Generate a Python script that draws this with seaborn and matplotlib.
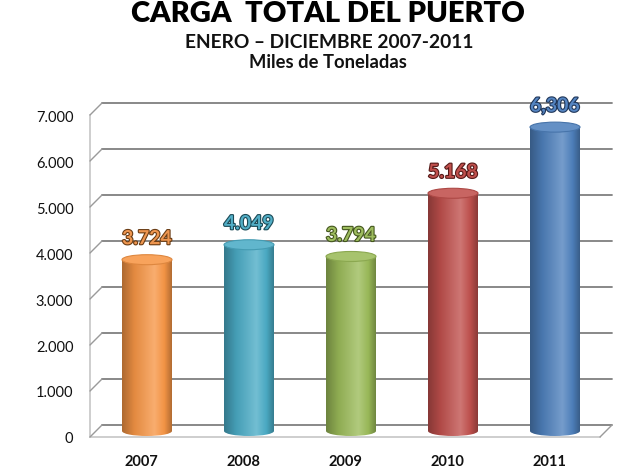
import numpy as np
import matplotlib
matplotlib.use("Agg")
import matplotlib.pyplot as plt
import seaborn as sns
from matplotlib.patches import Ellipse
from matplotlib.lines import Line2D
import matplotlib.patheffects as pe
from matplotlib.colors import LinearSegmentedColormap, to_rgb

# ---- data ----
years = ["2007", "2008", "2009", "2010", "2011"]
values = [3724, 4049, 3794, 5168, 6606]          # bar heights as drawn
value_labels = ["3.724", "4.049", "3.794", "5.168", "6,306"]  # data label texts as printed
yticks = [0, 1000, 2000, 3000, 4000, 5000, 6000, 7000]
ytick_labels = ["0", "1.000", "2.000", "3.000", "4.000", "5.000", "6.000", "7.000"]
title = "CARGA  TOTAL DEL PUERTO"
subtitle = "ENERO \u2013 DICIEMBRE 2007-2011"
units = "Miles de Toneladas"

bar_colors = ["#F79646", "#4BACC6", "#9BBB59", "#C0504D", "#4F81BD"]
label_fill = ["#EE9650", "#52AEC6", "#9DBC5E", "#C0504D", "#5585C2"]
label_edge = ["#6A3C14", "#1C4A56", "#44561E", "#561A18", "#203658"]

sns.set_theme(style="white")
plt.rcParams['font.family'] = ['Lato', 'DejaVu Sans']

W, H = 636, 477
fig = plt.figure(figsize=(W / 100, H / 100), dpi=100)
fig.patch.set_facecolor("white")

YMAX = 7000
pxu = 322 / YMAX  # pixels per data unit

# back wall (gridlines), front frame (axes / labels), mid plane (bars)
back_ax = fig.add_axes([102 / W, (H - 426) / H, 510 / W, 322 / H])
front_ax = fig.add_axes([90 / W, (H - 438) / H, 510 / W, 322 / H])
below = 300
mid_ax = fig.add_axes([96 / W, (H - (432 + below * pxu)) / H, 510 / W, (YMAX + below) * pxu / H])

for a in (back_ax, front_ax, mid_ax):
    a.set_facecolor("none")
    a.set_xlim(-0.5, len(years) - 0.5)
    for s in a.spines.values():
        s.set_visible(False)
back_ax.set_ylim(0, YMAX)
front_ax.set_ylim(0, YMAX)
mid_ax.set_ylim(-below, YMAX)

# back wall gridlines
for yv in yticks:
    back_ax.axhline(yv, color="#7F7F7F", lw=1.3, clip_on=False)
back_ax.set_xticks([])
back_ax.set_yticks([])

# front frame
front_ax.spines["left"].set_visible(True)
front_ax.spines["left"].set_color("#C8C8C8")
front_ax.spines["bottom"].set_visible(True)
front_ax.spines["bottom"].set_color("#C8C8C8")
front_ax.set_yticks(yticks)
front_ax.set_yticklabels(ytick_labels, fontsize=10.5, color="#111111")
front_ax.set_xticks(range(len(years)))
front_ax.set_xticklabels(years, fontsize=10.5, fontweight="bold", color="#111111")
front_ax.set_xticks(np.arange(-0.5, len(years)), minor=True)
front_ax.tick_params(axis="y", length=0, pad=12)
front_ax.tick_params(axis="x", which="major", length=0, pad=12)
front_ax.tick_params(axis="x", which="minor", length=5, color="#C8C8C8", width=1, direction="out")

# depth connectors
fig.canvas.draw()
inv = fig.transFigure.inverted()
def connect(x, y):
    p0 = inv.transform(front_ax.transData.transform((x, y)))
    p1 = inv.transform(back_ax.transData.transform((x, y)))
    fig.add_artist(Line2D([p0[0], p1[0]], [p0[1], p1[1]], transform=fig.transFigure,
                          color="#9A9A9A", lw=1))
for yv in yticks:
    connect(-0.5, yv)
connect(len(years) - 0.5, 0)

# bars (mid plane)
sns.barplot(x=years, y=values, hue=years, palette=bar_colors, legend=False,
            width=0.49, saturation=1, ax=mid_ax)
mid_ax.set_xlabel("")
mid_ax.set_ylabel("")
mid_ax.set_xticks([])
mid_ax.set_yticks([])

cap_h = 10 / pxu
grad = np.linspace(0, 1, 256).reshape(1, -1)
for i, patch in enumerate(mid_ax.patches):
    c = np.array(to_rgb(bar_colors[i]))
    dark = c * 0.7
    light = c + (1 - c) * 0.22
    cmap = LinearSegmentedColormap.from_list(
        "cyl", [(0, dark), (0.25, c * 0.92), (0.65, light), (0.85, c * 0.98), (1, c * 0.72)])
    x0 = patch.get_x()
    w = patch.get_width()
    h = patch.get_height()
    patch.set_facecolor("none")
    patch.set_edgecolor("none")
    im = mid_ax.imshow(grad, extent=[x0, x0 + w, 0, h], aspect="auto", cmap=cmap,
                       zorder=3, interpolation="bilinear")
    im.set_clip_path(patch)
    bottom = Ellipse((x0 + w / 2, 0), w, cap_h, facecolor="none", edgecolor="none")
    mid_ax.add_patch(bottom)
    im2 = mid_ax.imshow(grad, extent=[x0, x0 + w, -cap_h, cap_h], aspect="auto", cmap=cmap,
                        zorder=2.9, interpolation="bilinear")
    im2.set_clip_path(bottom)
    top = Ellipse((x0 + w / 2, h), w, cap_h, facecolor=c + (1 - c) * 0.12,
                  edgecolor=c * 0.9, lw=0.8, zorder=4)
    mid_ax.add_patch(top)
    mid_ax.set_xlim(-0.5, len(years) - 0.5)
    mid_ax.set_ylim(-below, YMAX)
    mid_ax.annotate(value_labels[i], (x0 + w / 2, h), xytext=(0, 9),
                    textcoords="offset points", ha="center", va="bottom",
                    fontsize=14, fontweight="bold", color=label_fill[i], zorder=5,
                    path_effects=[pe.withStroke(linewidth=1.6, foreground=label_edge[i])])

# titles
fig.text(0.515, 1 - 14 / H, title, ha="center", va="center", fontsize=21,
         fontweight="heavy", color="black")
fig.text(0.518, 1 - 42 / H, subtitle, ha="center", va="center", fontsize=13.8,
         fontweight="bold", color="#111111")
fig.text(0.516, 1 - 62 / H, units, ha="center", va="center", fontsize=13.2,
         fontweight="bold", color="#111111")

fig.savefig("out.png", dpi=100, facecolor="white")
